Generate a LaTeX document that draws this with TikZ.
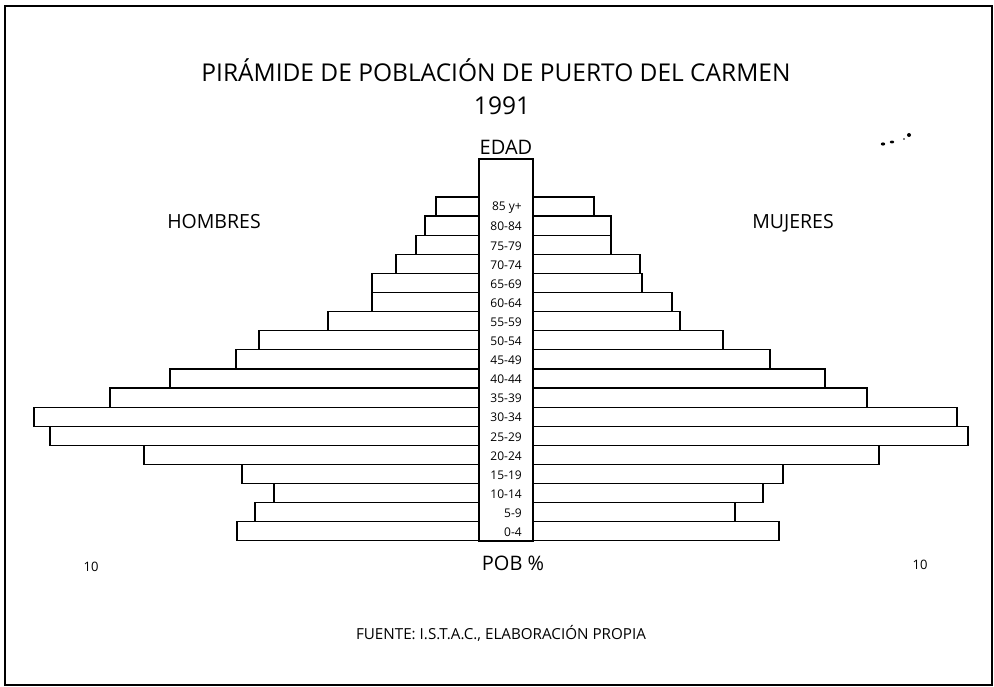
\documentclass[tikz,border=0pt]{standalone}
\usepackage{fontspec}
\setmainfont{Open Sans}
\begin{document}
\begin{tikzpicture}[x=1pt,y=-1pt,
  bar/.style={draw=black,line width=1.2pt,fill=white},
  frame/.style={draw=black,line width=1.4pt},
  title/.style={font=\fontsize{24.5}{28}\selectfont,inner sep=0pt},
  side/.style={font=\fontsize{19.5}{22}\selectfont,inner sep=0pt},
  age/.style={font=\fontsize{12}{14}\selectfont,inner sep=0pt,anchor=east},
  tick/.style={font=\fontsize{13}{15}\selectfont,inner sep=0pt},
  src/.style={font=\fontsize{15.2}{17}\selectfont,inner sep=0pt}]
\useasboundingbox (0,0) rectangle (994,687);
\fill[white] (0,0) rectangle (994,687);
\draw[frame] (5,6) rectangle (992,685);
% central column
\draw[bar] (479,159) rectangle (533,541);
% bars: left end, right end
\def\ytop{197}
\def\bh{19.1}
\foreach \l/\r/\lab [count=\i from 0] in {
 436/594/85 y+, 425/611/80-84, 416/611/75-79, 396/640/70-74,
 372/642/65-69, 372/672/60-64, 328/680/55-59, 259/723/50-54,
 236/770/45-49, 170/825/40-44, 110/867/35-39, 34/957/30-34,
 50/968/25-29, 144/879/20-24, 242/783/15-19, 274/763/10-14,
 255/735/5-9, 237/779/0-4}{
  \pgfmathsetmacro\ya{\ytop+\i*\bh}
  \pgfmathsetmacro\yb{\ytop+(\i+1)*\bh}
  \pgfmathsetmacro\ym{\ytop+(\i+0.5)*\bh+1}
  \draw[bar] (\l,\ya) rectangle (479,\yb);
  \draw[bar] (533,\ya) rectangle (\r,\yb);
  \node[age] (age\i) at (522,\ym) {\lab};
}
\node[title] (t1) at (496,70) {PIRÁMIDE DE POBLACIÓN DE PUERTO DEL CARMEN};
\node[title] (t2) at (502,106) {1991};
\node[side,font=\fontsize{20}{24}\selectfont] (edad) at (506,147) {EDAD};
\node[side] (hom) at (214,222) {HOMBRES};
\node[side] (muj) at (793,223) {MUJERES};
\node[side,font=\fontsize{20}{24}\selectfont] (pob) at (513,563) {POB \%};
\node[tick] (tl) at (91,567) {10};
\node[tick] (tr) at (920,565) {10};
\node[src] (fuente) at (501,633) {FUENTE: I.S.T.A.C., ELABORACIÓN PROPIA};
% specks
\fill (883,144) ellipse (2.2 and 1.6);
\fill (892,142) ellipse (2.2 and 1.4);
\fill (904,139) circle (0.9);
\fill (909,135) circle (2);
\end{tikzpicture}
\end{document}
